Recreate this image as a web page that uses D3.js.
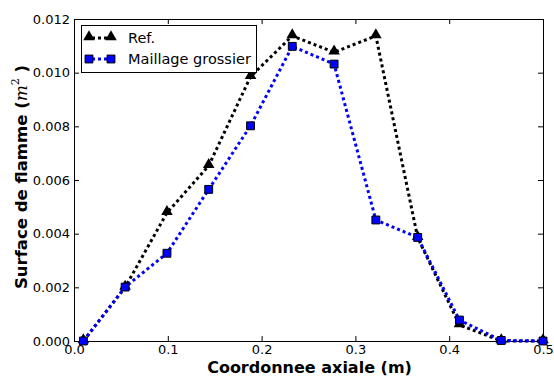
<!DOCTYPE html>
<html><head><meta charset="utf-8">
<script src="https://cdn.jsdelivr.net/npm/d3@7"></script>
<style>body{margin:0;background:#fff}svg{display:block;font-family:"DejaVu Sans",sans-serif}</style>
</head><body><svg id="c" width="554" height="378"></svg>
<script>
const xPos = [0.01, 0.0545, 0.0991, 0.1436, 0.1882, 0.2327, 0.2773, 0.3218, 0.3664, 0.4109, 0.4555, 0.5];
const refValues = [0, 0.00200, 0.00478, 0.00653, 0.00985, 0.01137, 0.01076, 0.01137, 0.00385, 0.00060, 0, 0];
const coarseValues = [0, 0.00201, 0.00327, 0.00565, 0.00802, 0.01098, 0.01032, 0.00451, 0.00386, 0.00078, 0.00002, 0];
const xTicks = [0.0, 0.1, 0.2, 0.3, 0.4, 0.5];
const yTicks = [0.000, 0.002, 0.004, 0.006, 0.008, 0.010, 0.012];
const seriesNames = ["Ref.", "Maillage grossier"];

const svg = d3.select("#c");
const L = 74, R = 543, T = 19, B = 341;
const x = d3.scaleLinear().domain([0, 0.5]).range([L, R]);
const y = d3.scaleLinear().domain([0, 0.012]).range([B, T]);

const tl = 5;
const gx = svg.append("g").attr("transform", `translate(0,${B})`)
  .call(d3.axisBottom(x).tickValues(xTicks).tickFormat(d3.format(".1f")).tickSizeInner(-tl).tickSizeOuter(0).tickPadding(4));
const gxt = svg.append("g").attr("transform", `translate(0,${T})`)
  .call(d3.axisTop(x).tickValues(xTicks).tickFormat("").tickSizeInner(-tl).tickSizeOuter(0));
const gy = svg.append("g").attr("transform", `translate(${L},0)`)
  .call(d3.axisLeft(y).tickValues(yTicks).tickFormat(d3.format(".3f")).tickSizeInner(-tl).tickSizeOuter(0).tickPadding(4));
const gyr = svg.append("g").attr("transform", `translate(${R},0)`)
  .call(d3.axisRight(y).tickValues(yTicks).tickFormat("").tickSizeInner(-tl).tickSizeOuter(0));
[gx, gxt, gy, gyr].forEach(g => {
  g.select(".domain").remove();
  g.selectAll("line").attr("stroke", "#000");
  g.selectAll("text").attr("fill", "#000").style("font-size", "13px").style("font-family", "DejaVu Sans");
});

svg.append("rect").attr("x", L + 0.5).attr("y", T + 0.5).attr("width", R - L).attr("height", B - T)
  .attr("fill", "none").attr("stroke", "#000").attr("stroke-width", 1);

const line = d3.line().x((d, i) => x(xPos[i])).y(d => y(d));
const tri = d3.symbol().type(d3.symbolTriangle).size(58);
const sq = d3.symbol().type(d3.symbolSquare).size(62);

const plot = svg.append("g");
plot.append("path").datum(refValues).attr("d", line).attr("fill", "none")
  .attr("stroke", "#000").attr("stroke-width", 3).attr("stroke-dasharray", "3,3");
plot.selectAll(".tri").data(refValues).join("path").attr("class", "tri")
  .attr("transform", (d, i) => `translate(${x(xPos[i])},${y(d) - 1})`).attr("d", tri).attr("fill", "#000");

plot.append("path").datum(coarseValues).attr("d", line).attr("fill", "none")
  .attr("stroke", "#0000ff").attr("stroke-width", 3).attr("stroke-dasharray", "3,3");
plot.selectAll(".sq").data(coarseValues).join("path").attr("class", "sq")
  .attr("transform", (d, i) => `translate(${x(xPos[i])},${y(d)})`).attr("d", sq)
  .attr("fill", "#0000ff").attr("stroke", "#000").attr("stroke-width", 1);

// legend
const lg = svg.append("g");
lg.append("rect").attr("x", 81.5).attr("y", 25.5).attr("width", 175).attr("height", 47)
  .attr("fill", "#fff").attr("stroke", "#000").attr("stroke-width", 1);
const rows = [
  {name: seriesNames[0], color: "#000", sym: tri, cy: 38, fill: "#000"},
  {name: seriesNames[1], color: "#0000ff", sym: sq, cy: 59, fill: "#0000ff"}
];
rows.forEach(r => {
  lg.append("line").attr("x1", 89).attr("x2", 111).attr("y1", r.cy).attr("y2", r.cy)
    .attr("stroke", r.color).attr("stroke-width", 3).attr("stroke-dasharray", "3,3").attr("stroke-dashoffset", -3);
  [89, 111].forEach(px => {
    lg.append("path").attr("d", r.sym).attr("transform", `translate(${px},${r.cy - (r.sym === tri ? 1 : 0)})`)
      .attr("fill", r.fill).attr("stroke", r.sym === sq ? "#000" : "none").attr("stroke-width", 1);
  });
  lg.append("text").attr("x", 128).attr("y", r.cy).attr("dy", "0.35em").text(r.name)
    .style("font-size", "14.5px").attr("fill", "#000");
});

// axis labels
svg.append("text").attr("x", (L + R) / 2 + 1).attr("y", 373).attr("text-anchor", "middle")
  .style("font-size", "16px").style("font-weight", "bold").text("Coordonnee axiale (m)");
const yl = svg.append("text").attr("transform", `translate(27,177) rotate(-90)`)
  .attr("text-anchor", "middle").style("font-size", "16.5px").style("font-weight", "bold");
yl.append("tspan").text("Surface de flamme (");
yl.append("tspan").style("font-style", "italic").style("font-weight", "normal").style("font-family", "DejaVu Serif").style("font-size", "17px").text("m");
yl.append("tspan").style("font-size", "11px").style("font-weight", "normal").style("font-family", "DejaVu Serif").attr("dy", "-0.75em").text("2");
yl.append("tspan").attr("dy", "0.5em").text(" )");
</script></body></html>
